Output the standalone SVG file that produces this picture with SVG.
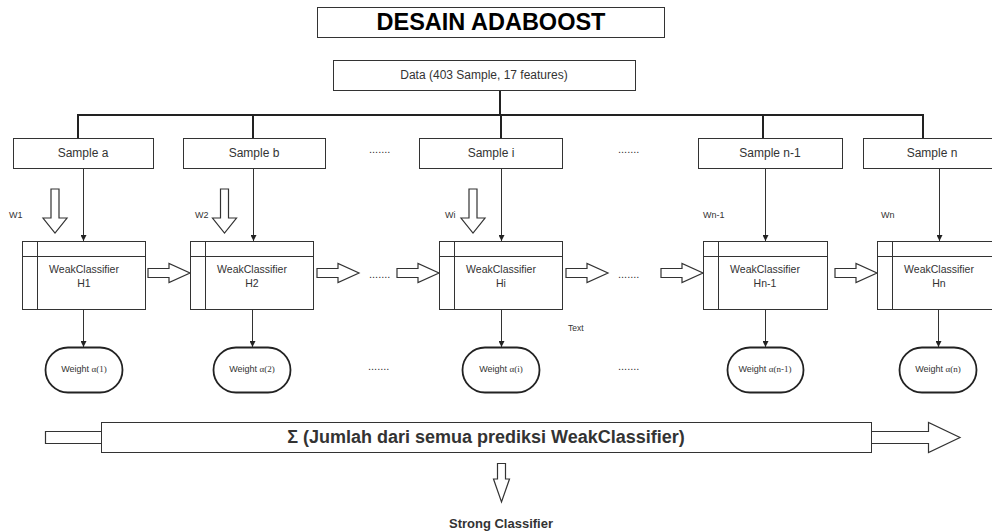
<svg xmlns="http://www.w3.org/2000/svg" width="992" height="532" viewBox="0 0 992 532">
  <style>
    text { font-family: "Liberation Sans", Arial, sans-serif; fill: #333; }
    .box { fill: #fff; stroke: #333; stroke-width: 1; }
    .bus { fill: none; stroke: #222; stroke-width: 2; }
    .wire { fill: none; stroke: #333; stroke-width: 1; }
    .hollow { fill: #fff; stroke: #333; stroke-width: 1.2; stroke-linejoin: miter; }
    .pill { fill: #fff; stroke: #222; stroke-width: 1.8; }
    .lbl { font-size: 12px; text-anchor: middle; }
    .cls { font-size: 10.5px; text-anchor: middle; }
    .w { font-size: 9px; }
    .wt { font-size: 9px; text-anchor: middle; }
    .greek { font-family: "Liberation Serif", "Times New Roman", serif; }
    .dots { font-size: 11px; }
  </style>
  <defs>
    <marker id="tip" viewBox="0 0 10 10" refX="10" refY="5" markerWidth="6" markerHeight="6" orient="auto" markerUnits="userSpaceOnUse">
      <path d="M0,0 L10,5 L0,10 z" fill="#222"/>
    </marker>
    <!-- hollow block arrows: right-pointing and down-pointing -->
    <path id="harrow" d="M0,-4.5 L21,-4.5 L21,-9.5 L42,0 L21,9.5 L21,4.5 L0,4.5 z"/>
    <path id="varrow" d="M-4,0 L4,0 L4,29 L12,29 L0,44 L-12,29 L-4,29 z"/>
  </defs>

  <!-- title -->
  <g id="title">
    <rect class="box" x="317.5" y="7.5" width="347" height="30"/>
    <text x="491" y="30" font-size="23.5" font-weight="bold" text-anchor="middle" style="fill:#000">DESAIN ADABOOST</text>
  </g>

  <!-- connectors -->
  <g id="connectors">
    <path class="bus" d="M500,90 V115 M78,138 V115 H923 V138 M253,115 V138 M501,115 V138 M763,115 V138"/>
    <path class="wire" marker-end="url(#tip)" d="M83.5,168 V241"/>
    <path class="wire" marker-end="url(#tip)" d="M253.5,168 V241"/>
    <path class="wire" marker-end="url(#tip)" d="M501.5,168 V241"/>
    <path class="wire" marker-end="url(#tip)" d="M765.5,168 V241"/>
    <path class="wire" marker-end="url(#tip)" d="M939.5,168 V241"/>
    <path class="wire" marker-end="url(#tip)" d="M83.5,309 V347"/>
    <path class="wire" marker-end="url(#tip)" d="M252.5,309 V347"/>
    <path class="wire" marker-end="url(#tip)" d="M501.5,309 V347"/>
    <path class="wire" marker-end="url(#tip)" d="M765.5,309 V347"/>
    <path class="wire" marker-end="url(#tip)" d="M938.5,309 V347"/>
  </g>

  <!-- data source -->
  <g id="data">
    <rect class="box" x="333.5" y="60.5" width="302" height="30"/>
    <text class="lbl" x="484" y="79">Data (403 Sample, 17 features)</text>
  </g>

  <!-- samples -->
  <g id="sample-a"><rect class="box" x="13.5" y="138.5" width="140" height="30"/><text class="lbl" x="83" y="157">Sample a</text></g>
  <g id="sample-b"><rect class="box" x="183.5" y="138.5" width="142" height="30"/><text class="lbl" x="254" y="157">Sample b</text></g>
  <g id="sample-i"><rect class="box" x="419.5" y="138.5" width="143" height="30"/><text class="lbl" x="491" y="157">Sample i</text></g>
  <g id="sample-n1"><rect class="box" x="698.5" y="138.5" width="144" height="30"/><text class="lbl" x="770" y="157">Sample n-1</text></g>
  <g id="sample-n"><rect class="box" x="863.5" y="138.5" width="140" height="30"/><text class="lbl" x="932" y="157">Sample n</text></g>

  <!-- ellipsis marks -->
  <g id="ellipses">
    <text class="dots" x="369" y="153">.......</text>
    <text class="dots" x="618" y="153">.......</text>
    <text class="dots" x="369" y="278">.......</text>
    <text class="dots" x="618" y="278">.......</text>
    <text class="dots" x="368" y="370">.......</text>
    <text class="dots" x="618" y="370">.......</text>
  </g>

  <!-- weight inputs -->
  <g id="weights-in">
    <use href="#varrow" class="hollow" x="55" y="189"/>
    <use href="#varrow" class="hollow" x="224.5" y="189"/>
    <use href="#varrow" class="hollow" x="473" y="189"/>
    <text class="w" x="9" y="218">W1</text>
    <text class="w" x="195" y="218">W2</text>
    <text class="w" x="445" y="218">Wi</text>
    <text class="w" x="703" y="218">Wn-1</text>
    <text class="w" x="881" y="218">Wn</text>
  </g>

  <!-- chaining arrows between classifiers -->
  <g id="chain">
    <use href="#harrow" class="hollow" x="148" y="273"/>
    <use href="#harrow" class="hollow" x="317" y="273"/>
    <use href="#harrow" class="hollow" x="397" y="273"/>
    <use href="#harrow" class="hollow" x="566" y="273"/>
    <use href="#harrow" class="hollow" x="661" y="273"/>
    <use href="#harrow" class="hollow" x="835" y="273"/>
  </g>

  <!-- weak classifiers -->
  <g id="clf-1">
    <rect class="box" x="22.5" y="241.5" width="123" height="68"/>
    <path class="wire" d="M37.5,241.5 V309.5 M22.5,256.5 H145.5"/>
    <text class="cls" x="84" y="273">WeakClassifier</text><text class="cls" x="84" y="287">H1</text>
  </g>
  <g id="clf-2">
    <rect class="box" x="190.5" y="241.5" width="123" height="68"/>
    <path class="wire" d="M205.5,241.5 V309.5 M190.5,256.5 H313.5"/>
    <text class="cls" x="252" y="273">WeakClassifier</text><text class="cls" x="252" y="287">H2</text>
  </g>
  <g id="clf-i">
    <rect class="box" x="439.5" y="241.5" width="123" height="68"/>
    <path class="wire" d="M454.5,241.5 V309.5 M439.5,256.5 H562.5"/>
    <text class="cls" x="501" y="273">WeakClassifier</text><text class="cls" x="501" y="287">Hi</text>
  </g>
  <g id="clf-n1">
    <rect class="box" x="703.5" y="241.5" width="124" height="68"/>
    <path class="wire" d="M718.5,241.5 V309.5 M703.5,256.5 H827.5"/>
    <text class="cls" x="765" y="273">WeakClassifier</text><text class="cls" x="765" y="287">Hn-1</text>
  </g>
  <g id="clf-n">
    <rect class="box" x="877.5" y="241.5" width="124" height="68"/>
    <path class="wire" d="M892.5,241.5 V309.5 M877.5,256.5 H1001.5"/>
    <text class="cls" x="939" y="273">WeakClassifier</text><text class="cls" x="939" y="287">Hn</text>
  </g>

  <text id="note" x="568" y="331" font-size="8.5">Text</text>

  <!-- classifier weights -->
  <g id="alpha-1"><rect class="pill" x="45.5" y="347.5" width="77" height="45" rx="22.5"/><text class="wt" x="84" y="372">Weight <tspan class="greek">α(1)</tspan></text></g>
  <g id="alpha-2"><rect class="pill" x="213.5" y="347.5" width="77" height="45" rx="22.5"/><text class="wt" x="252" y="372">Weight <tspan class="greek">α(2)</tspan></text></g>
  <g id="alpha-i"><rect class="pill" x="462.5" y="347.5" width="77" height="45" rx="22.5"/><text class="wt" x="501" y="372">Weight <tspan class="greek">α(i)</tspan></text></g>
  <g id="alpha-n1"><rect class="pill" x="727.5" y="347.5" width="76" height="45" rx="22.5"/><text class="wt" x="765" y="372">Weight <tspan class="greek">α(n-1)</tspan></text></g>
  <g id="alpha-n"><rect class="pill" x="899.5" y="347.5" width="77" height="45" rx="22.5"/><text class="wt" x="938" y="372">Weight <tspan class="greek">α(n)</tspan></text></g>

  <!-- summation bar -->
  <g id="sum">
    <path class="hollow" d="M45.5,431.5 H928.5 V422.5 L960,437.5 L928.5,452.5 V443.5 H45.5 z"/>
    <rect class="box" x="101.5" y="422.5" width="770" height="30"/>
    <text x="486" y="443" font-size="18" font-weight="bold" text-anchor="middle">Σ (Jumlah dari semua prediksi WeakClassifier)</text>
  </g>

  <!-- final output -->
  <g id="strong">
    <path class="hollow" d="M497.5,463.5 H505.5 V479 H509.5 L501.5,502 L493.5,479 H497.5 z"/>
    <text x="501" y="528" font-size="13" font-weight="bold" text-anchor="middle">Strong Classifier</text>
  </g>
</svg>
